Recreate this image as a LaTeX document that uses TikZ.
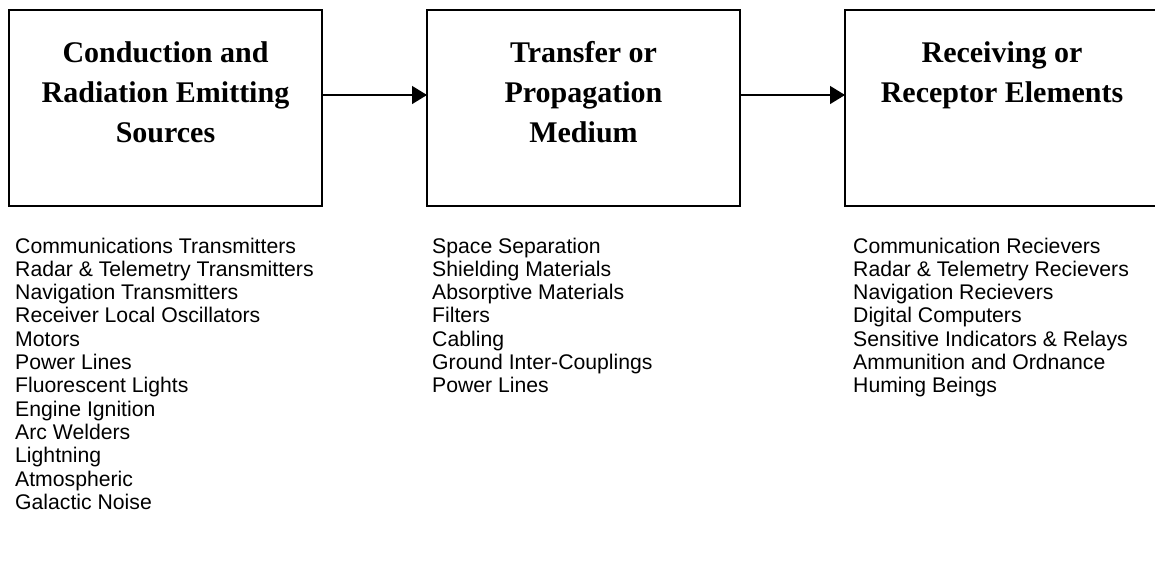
\documentclass[tikz,border=0pt]{standalone}
\usepackage{fontspec}
\setmainfont{Liberation Serif}
\setsansfont{Liberation Sans}
\usetikzlibrary{arrows.meta,positioning}

\tikzset{
  block/.style={draw, line width=1.6pt, minimum width=313pt, minimum height=196pt, inner sep=0pt, outer sep=0pt, anchor=north west},
  heading/.style={anchor=north, align=center, inner sep=0pt, font=\bfseries\fontsize{30}{40}\selectfont},
  entry/.style={anchor=base west, inner sep=0pt, font=\sffamily\fontsize{21.2}{23.3}\selectfont},
  link/.style={line width=1.3pt, -{Triangle[length=15pt,width=18pt]}}
}

\begin{document}
\begin{tikzpicture}[x=1pt,y=-1pt]
\useasboundingbox (0,0) rectangle (1155,563);
\clip (0,0) rectangle (1155,563);

% the three stages (the last one runs off the page)
\node[block] (source) at (9,10) {};
\node[block] (medium) at (427,10) {};
\node[block, minimum width=340pt] (receptor) at (845,10) {};

\node[heading, below=31pt of source.north] (source-title) {Conduction and\\Radiation Emitting\\Sources};
\node[heading, below=31pt of medium.north] (medium-title) {Transfer or\\Propagation\\Medium};
\node[heading, below=31pt of receptor.north west, xshift=157pt] (receptor-title) {Receiving or\\Receptor Elements};

\draw[link] ([yshift=13pt]source.east) -- ([yshift=13pt]medium.west);
\draw[link] ([yshift=13pt]medium.east) -- ([yshift=13pt]receptor.west);

% lists under the boxes
\foreach \t [count=\i] in {Communications Transmitters, Radar \& Telemetry Transmitters,
    Navigation Transmitters, Receiver Local Oscillators, Motors, Power Lines,
    Fluorescent Lights, Engine Ignition, Arc Welders, Lightning, Atmospheric, Galactic Noise}
         {
           \node[entry] (src-\i) at (15,{253+23.3*(\i-1)}) {\t};
         }

\foreach \t [count=\i] in {Space Separation, Shielding Materials, Absorptive Materials,
    Filters, Cabling, Ground Inter-Couplings, Power Lines}
         {
           \node[entry] (med-\i) at (432,{253+23.3*(\i-1)}) {\t};
         }

\foreach \t [count=\i] in {Communication Recievers, Radar \& Telemetry Recievers,
    Navigation Recievers, Digital Computers, Sensitive Indicators \& Relays,
    Ammunition and Ordnance, Huming Beings}
         {
           \node[entry] (rec-\i) at (853,{253+23.3*(\i-1)}) {\t};
         }
\end{tikzpicture}
\end{document}
